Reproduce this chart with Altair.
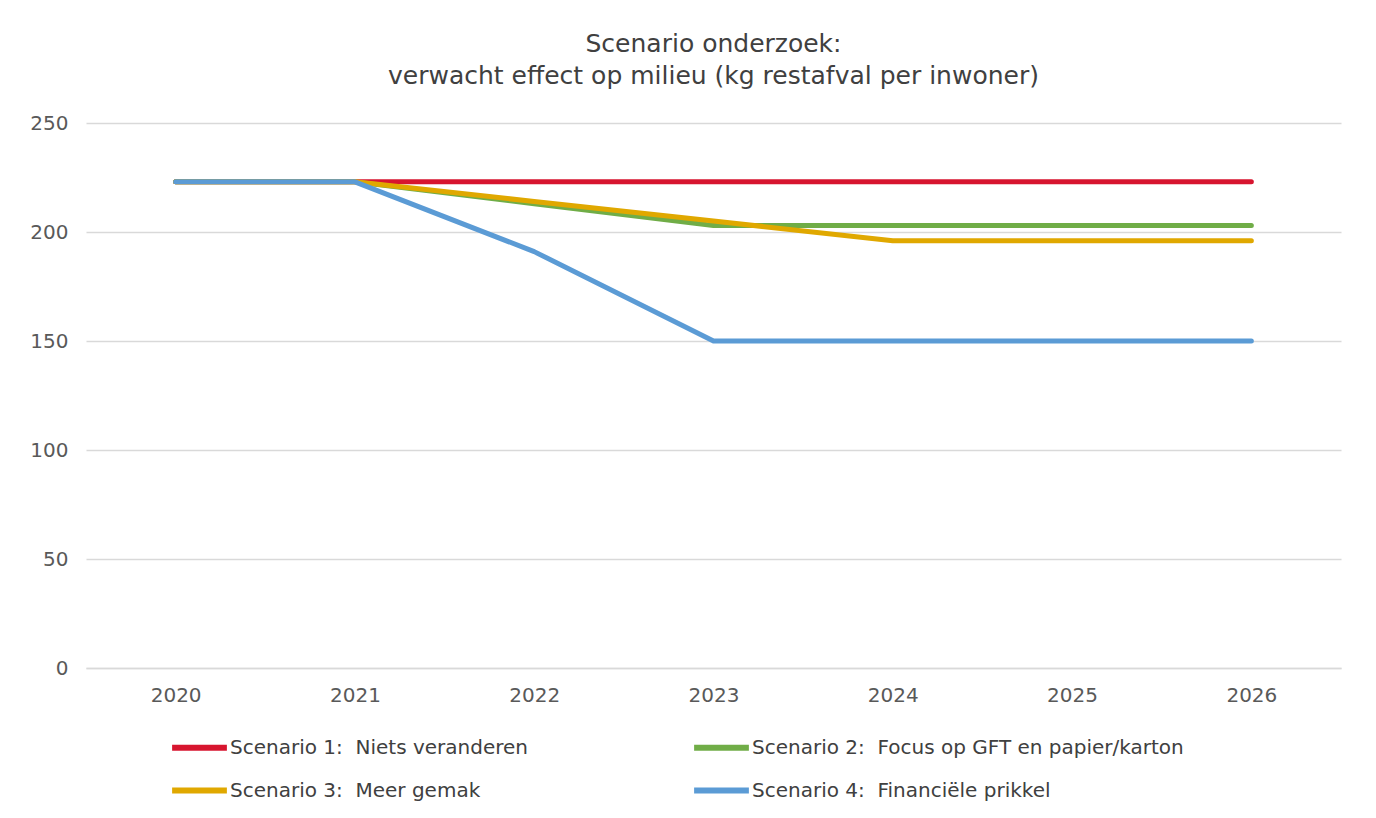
import altair as alt
import pandas as pd

years = ["2020", "2021", "2022", "2023", "2024", "2025", "2026"]
series_names = [
    "Scenario 1:\u00a0 Niets veranderen",
    "Scenario 2:\u00a0 Focus op GFT en papier/karton",
    "Scenario 3:\u00a0 Meer gemak",
    "Scenario 4:\u00a0 Financiële prikkel",
]
s1 = [223, 223, 223, 223, 223, 223, 223]
s2 = [223, 223, 213, 203, 203, 203, 203]
s3 = [223, 223, 214, 205, 196, 196, 196]
s4 = [223, 223, 191, 150, 150, 150, 150]
colors = ["#d7152f", "#70ad47", "#e0a800", "#5b9bd5"]

rows = []
for name, vals in zip(series_names, [s1, s2, s3, s4]):
    for y, v in zip(years, vals):
        rows.append({"Jaar": y, "Waarde": v, "Scenario": name})
df = pd.DataFrame(rows)

legend_order = [series_names[0], series_names[2], series_names[1], series_names[3]]

font = "DejaVu Sans"

chart = alt.Chart(df).mark_line(strokeWidth=5, strokeCap="round", strokeJoin="round").encode(
    x=alt.X("Jaar:O", sort=years, scale=alt.Scale(type="point", padding=0.5),
            axis=alt.Axis(title=None, labelAngle=0, domain=True, domainColor="#d9d9d9",
                          domainWidth=1.5, ticks=False, labelPadding=17, labelFontSize=20,
                          labelColor="#595959", labelFont=font)),
    y=alt.Y("Waarde:Q", scale=alt.Scale(domain=[0, 250]),
            axis=alt.Axis(title=None, values=[0, 50, 100, 150, 200, 250], domain=False,
                          ticks=False, grid=True, gridColor="#d9d9d9", gridWidth=1.5,
                          labelPadding=18, labelFontSize=20, labelColor="#595959",
                          labelFont=font)),
    color=alt.Color("Scenario:N", sort=series_names,
                    scale=alt.Scale(domain=series_names, range=colors),
                    legend=alt.Legend(title=None, orient="none", legendX=83, legendY=594,
                                      values=legend_order,
                                      columns=2, symbolType="stroke", symbolStrokeWidth=6,
                                      symbolSize=3000, labelFontSize=20, labelLimit=700,
                                      labelColor="#404040", labelFont=font,
                                      columnPadding=154, rowPadding=-15,
                                      labelOffset=0)),
    order=alt.Order("Scenario:N"),
).properties(
    width=1255,
    height=545,
    title=alt.TitleParams(
        text=["Scenario onderzoek:", "verwacht effect op milieu (kg restafval per inwoner)"],
        fontSize=25, font=font, fontWeight="normal", color="#404040",
        lineHeight=32, offset=24,
    ),
    padding={"left": 21, "top": 24, "right": 20, "bottom": 10},
).configure(background="white").configure_view(strokeWidth=0)

chart.save("out.html", embed_options={"renderer": "svg", "actions": False})
